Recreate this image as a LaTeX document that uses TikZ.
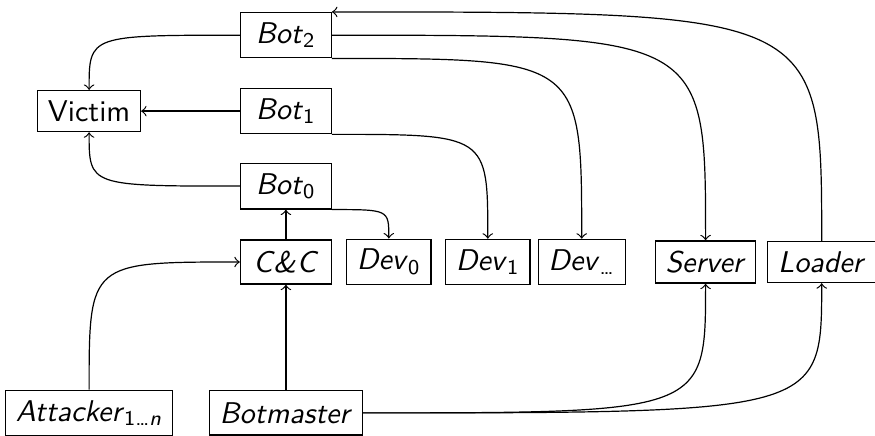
\documentclass[tikz,border=0pt]{standalone}
\usetikzlibrary{positioning}

\tikzset{
  blk/.style={draw,font=\sffamily,minimum height=14.7pt,inner xsep=3.4pt},
  lowblk/.style={blk,minimum height=13pt},
  hv/.style={to path={.. controls (\tikztostart -| \tikztotarget) .. (\tikztotarget) \tikztonodes}},
  vh/.style={to path={.. controls (\tikztostart |- \tikztotarget) .. (\tikztotarget) \tikztonodes}},
}
\newcommand{\nm}[2]{\textit{#1}\textsubscript{#2}}

\begin{document}
\begin{tikzpicture}[->,line width=0.4pt,
    node distance=2cm,on grid]
    \useasboundingbox (0,0) rectangle (291.67pt,145.33pt);
    \node[lowblk] (Victim) at (29.7pt,108.3pt) {Victim};
    \node[blk,minimum width=30.3pt] (Bot1) [right=65.6pt of Victim] {\nm{Bot}{1}};
    \node[blk,minimum width=30.3pt] (Bot2) [above=25.3pt of Bot1] {\nm{Bot}{2}};
    \node[blk,minimum width=30.3pt] (Bot0) [below=25pt of Bot1] {\nm{Bot}{0}};
    \node[blk,minimum width=30.3pt] (CC) [below=25.3pt of Bot0] {\textit{C\kern0.3pt\&\kern0.3pt C}};
    \node[blk] (Botmaster) [below=50.3pt of CC] {\textit{Botmaster}};
    \node[blk] (Attacker) [left=65.6pt of Botmaster] {\nm{Attacker}{1\dots\textit{n}}};
    \node[blk] (Dev0) [right=34.3pt of CC] {\nm{Dev}{0}};
    \node[blk] (Dev1) [right=33pt of Dev0] {\nm{Dev}{1}};
    \node[blk] (Devn) [right=31.3pt of Dev1] {\nm{Dev}{\dots}};
    \node[lowblk] (Server) [right=41.3pt of Devn] {\textit{Server}};
    \node[lowblk] (Loader) [right=38.7pt of Server] {\textit{Loader}};
    \path
    (Bot2.west) edge [hv] (Victim.north)
    (Bot1) edge (Victim)
    (Bot0.west) edge [hv] (Victim.south)
    (CC) edge (Bot0)
    (Bot0.south east) edge [hv] (Dev0.north)
    (Bot1.south east) edge [hv] (Dev1.north)
    (Bot2.south east) edge [hv] (Devn.north)
    (Bot2.east) edge [hv] (Server.north)
    (Loader.north) edge [vh] (Bot2.north east)
    (Attacker.north) edge [vh] (CC.west)
    (Botmaster) edge (CC)
    (Botmaster.east) edge [hv] (Server.south)
    edge [hv] (Loader.south);
\end{tikzpicture}
\end{document}
